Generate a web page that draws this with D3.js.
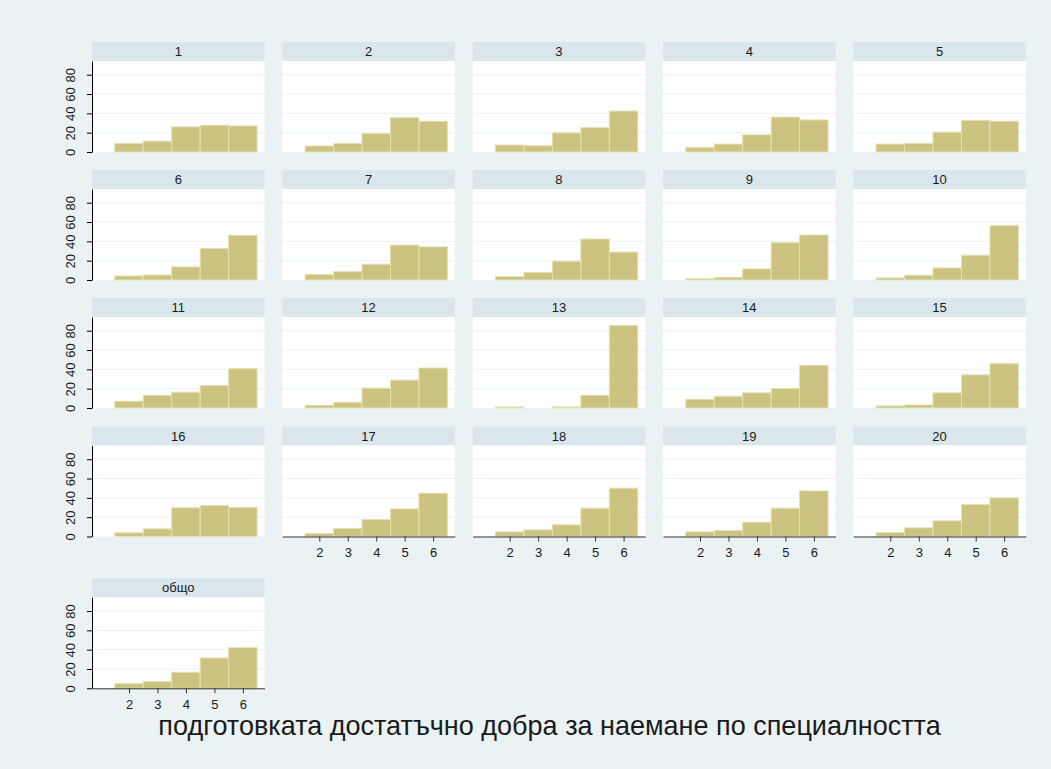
<!DOCTYPE html>
<html>
<head>
<meta charset="utf-8">
<script src="https://cdn.jsdelivr.net/npm/d3@7"></script>
<style>
  html, body { margin: 0; padding: 0; background: #eaf2f3; }
  svg { display: block; font-family: "Liberation Sans", Arial, sans-serif; }
</style>
</head>
<body>
<svg id="chart" width="1051" height="769"></svg>
<script>
// ---- data ----
const panelLabels = ["1","2","3","4","5","6","7","8","9","10",
                     "11","12","13","14","15","16","17","18","19","20","общо"];
const bins = [2, 3, 4, 5, 6];            // grade categories (histogram bins)
const yTicks = [0, 20, 40, 60, 80];
const xTicks = [2, 3, 4, 5, 6];
const percent = [
  [8.9, 11.3, 26.0, 27.7, 27.0],   // 1
  [6.2,  8.9, 19.1, 35.5, 31.8],   // 2
  [7.2,  6.5, 19.8, 25.3, 42.4],   // 3
  [4.8,  8.2, 17.8, 36.2, 33.2],   // 4
  [8.2,  8.9, 20.5, 32.8, 31.8],   // 5
  [4.2,  5.2, 13.6, 32.7, 46.3],   // 6
  [5.6,  8.7, 16.3, 36.2, 34.4],   // 7
  [3.5,  7.7, 19.5, 42.4, 28.9],   // 8
  [1.4,  2.8, 11.5, 38.6, 46.6],   // 9
  [2.1,  4.9, 12.5, 25.7, 56.3],   // 10
  [7.0, 13.2, 16.3, 23.3, 40.7],   // 11
  [2.8,  5.9, 20.5, 28.9, 41.4],   // 12
  [1.2,  0.0,  1.2, 13.2, 85.5],   // 13
  [9.0, 12.2, 15.7, 20.2, 44.2],   // 14
  [2.1,  3.1, 15.7, 34.4, 45.9],   // 15
  [3.8,  7.9, 29.7, 32.1, 30.0],   // 16
  [3.1,  8.3, 17.6, 28.6, 44.8],   // 17
  [4.8,  6.9, 12.1, 29.3, 50.0],   // 18
  [4.8,  6.2, 14.8, 29.3, 47.2],   // 19
  [4.1,  9.0, 16.2, 33.1, 40.0],   // 20
  [4.8,  6.9, 16.6, 31.4, 42.1]    // общо
];
const xTitle = "подготовката достатъчно добра за наемане по специалността";
// panels that carry an x axis
const withXAxis = ["17","18","19","20","общо"];

// ---- layout ----
const svg = d3.select("#chart");
const W = 1051, H = 769;
svg.append("rect").attr("width", W).attr("height", H).attr("fill", "#eaf2f3");

const colX = [92, 282.3, 472.7, 663, 853.3];
const headTop = [42, 170, 298, 426.5, 578.3];
const panelW = 172.5, headH = 19, plotH = 91;
const yMax = 94.2;

const COLORS = {
  bar: "#ccc380",
  barEdge: "#e6e0b4",
  head: "#d9e6eb",
  grid: "#eaf2f3",
  text: "#1a1a1a"
};

panelLabels.forEach((lab, i) => {
  const r = Math.floor(i / 5), c = i % 5;
  const x0 = colX[c];
  const top = headTop[r] + headH;
  const base = top + plotH;
  const g = svg.append("g");

  const x = d3.scaleLinear().domain([0.7, 6.76]).range([x0, x0 + panelW]);
  const y = d3.scaleLinear().domain([0, yMax]).range([base, top]);

  // header strip
  g.append("rect").attr("x", x0).attr("y", headTop[r])
    .attr("width", panelW).attr("height", headH).attr("fill", COLORS.head);
  g.append("text").attr("x", x0 + panelW / 2).attr("y", headTop[r] + headH / 2)
    .attr("text-anchor", "middle").attr("dominant-baseline", "central")
    .attr("font-size", 13).attr("fill", COLORS.text).text(lab);

  // plot region
  g.append("rect").attr("x", x0).attr("y", top)
    .attr("width", panelW).attr("height", plotH).attr("fill", "#fff");

  // gridlines
  g.selectAll("line.grid").data(yTicks.filter(d => d > 0)).enter()
    .append("line").attr("class", "grid")
    .attr("x1", x0).attr("x2", x0 + panelW)
    .attr("y1", d => y(d)).attr("y2", d => y(d))
    .attr("stroke", COLORS.grid).attr("stroke-width", 1);

  // bars
  g.selectAll("rect.bar").data(bins.map((b, k) => ({ b, v: percent[i][k] })))
    .enter().append("rect").attr("class", "bar")
    .attr("x", d => x(d.b - 0.5))
    .attr("width", d => x(d.b + 0.5) - x(d.b - 0.5))
    .attr("y", d => y(d.v))
    .attr("height", d => base - y(d.v))
    .attr("fill", COLORS.bar)
    .attr("stroke", d => d.v > 0 ? COLORS.barEdge : "none")
    .attr("stroke-width", 1);

  // y axis on the first column
  if (c === 0) {
    const ya = g.append("g").attr("transform", `translate(${x0},0)`)
      .call(d3.axisLeft(y).tickValues(yTicks).tickSize(5).tickSizeOuter(0));
    ya.select(".domain").attr("stroke", "#000");
    ya.selectAll(".tick line").attr("stroke", "#000");
    ya.selectAll(".tick text")
      .attr("x", null).attr("dy", "0.35em")
      .attr("transform", "translate(-22,0) rotate(-90)")
      .attr("text-anchor", "middle")
      .attr("font-size", 13).attr("font-family", "Liberation Sans, Arial, sans-serif")
      .attr("fill", COLORS.text);
  }

  // x axis on bottom panels
  if (withXAxis.includes(lab)) {
    const xa = g.append("g").attr("transform", `translate(0,${base})`)
      .call(d3.axisBottom(x).tickValues(xTicks).tickFormat(d3.format("d"))
        .tickSize(5).tickSizeOuter(0).tickPadding(6));
    xa.select(".domain").attr("stroke", "#333");
    xa.selectAll(".tick line").attr("stroke", "#333");
    xa.selectAll(".tick text").attr("font-size", 13)
      .attr("font-family", "Liberation Sans, Arial, sans-serif").attr("fill", COLORS.text);
  }
});

// x title
const t = svg.append("text").attr("x", 549.5).attr("y", 735)
  .attr("text-anchor", "middle").attr("font-size", 26).attr("fill", COLORS.text)
  .text(xTitle);
const len = t.node().getComputedTextLength();
t.attr("font-size", 26 * 783 / len);
</script>
</body>
</html>
